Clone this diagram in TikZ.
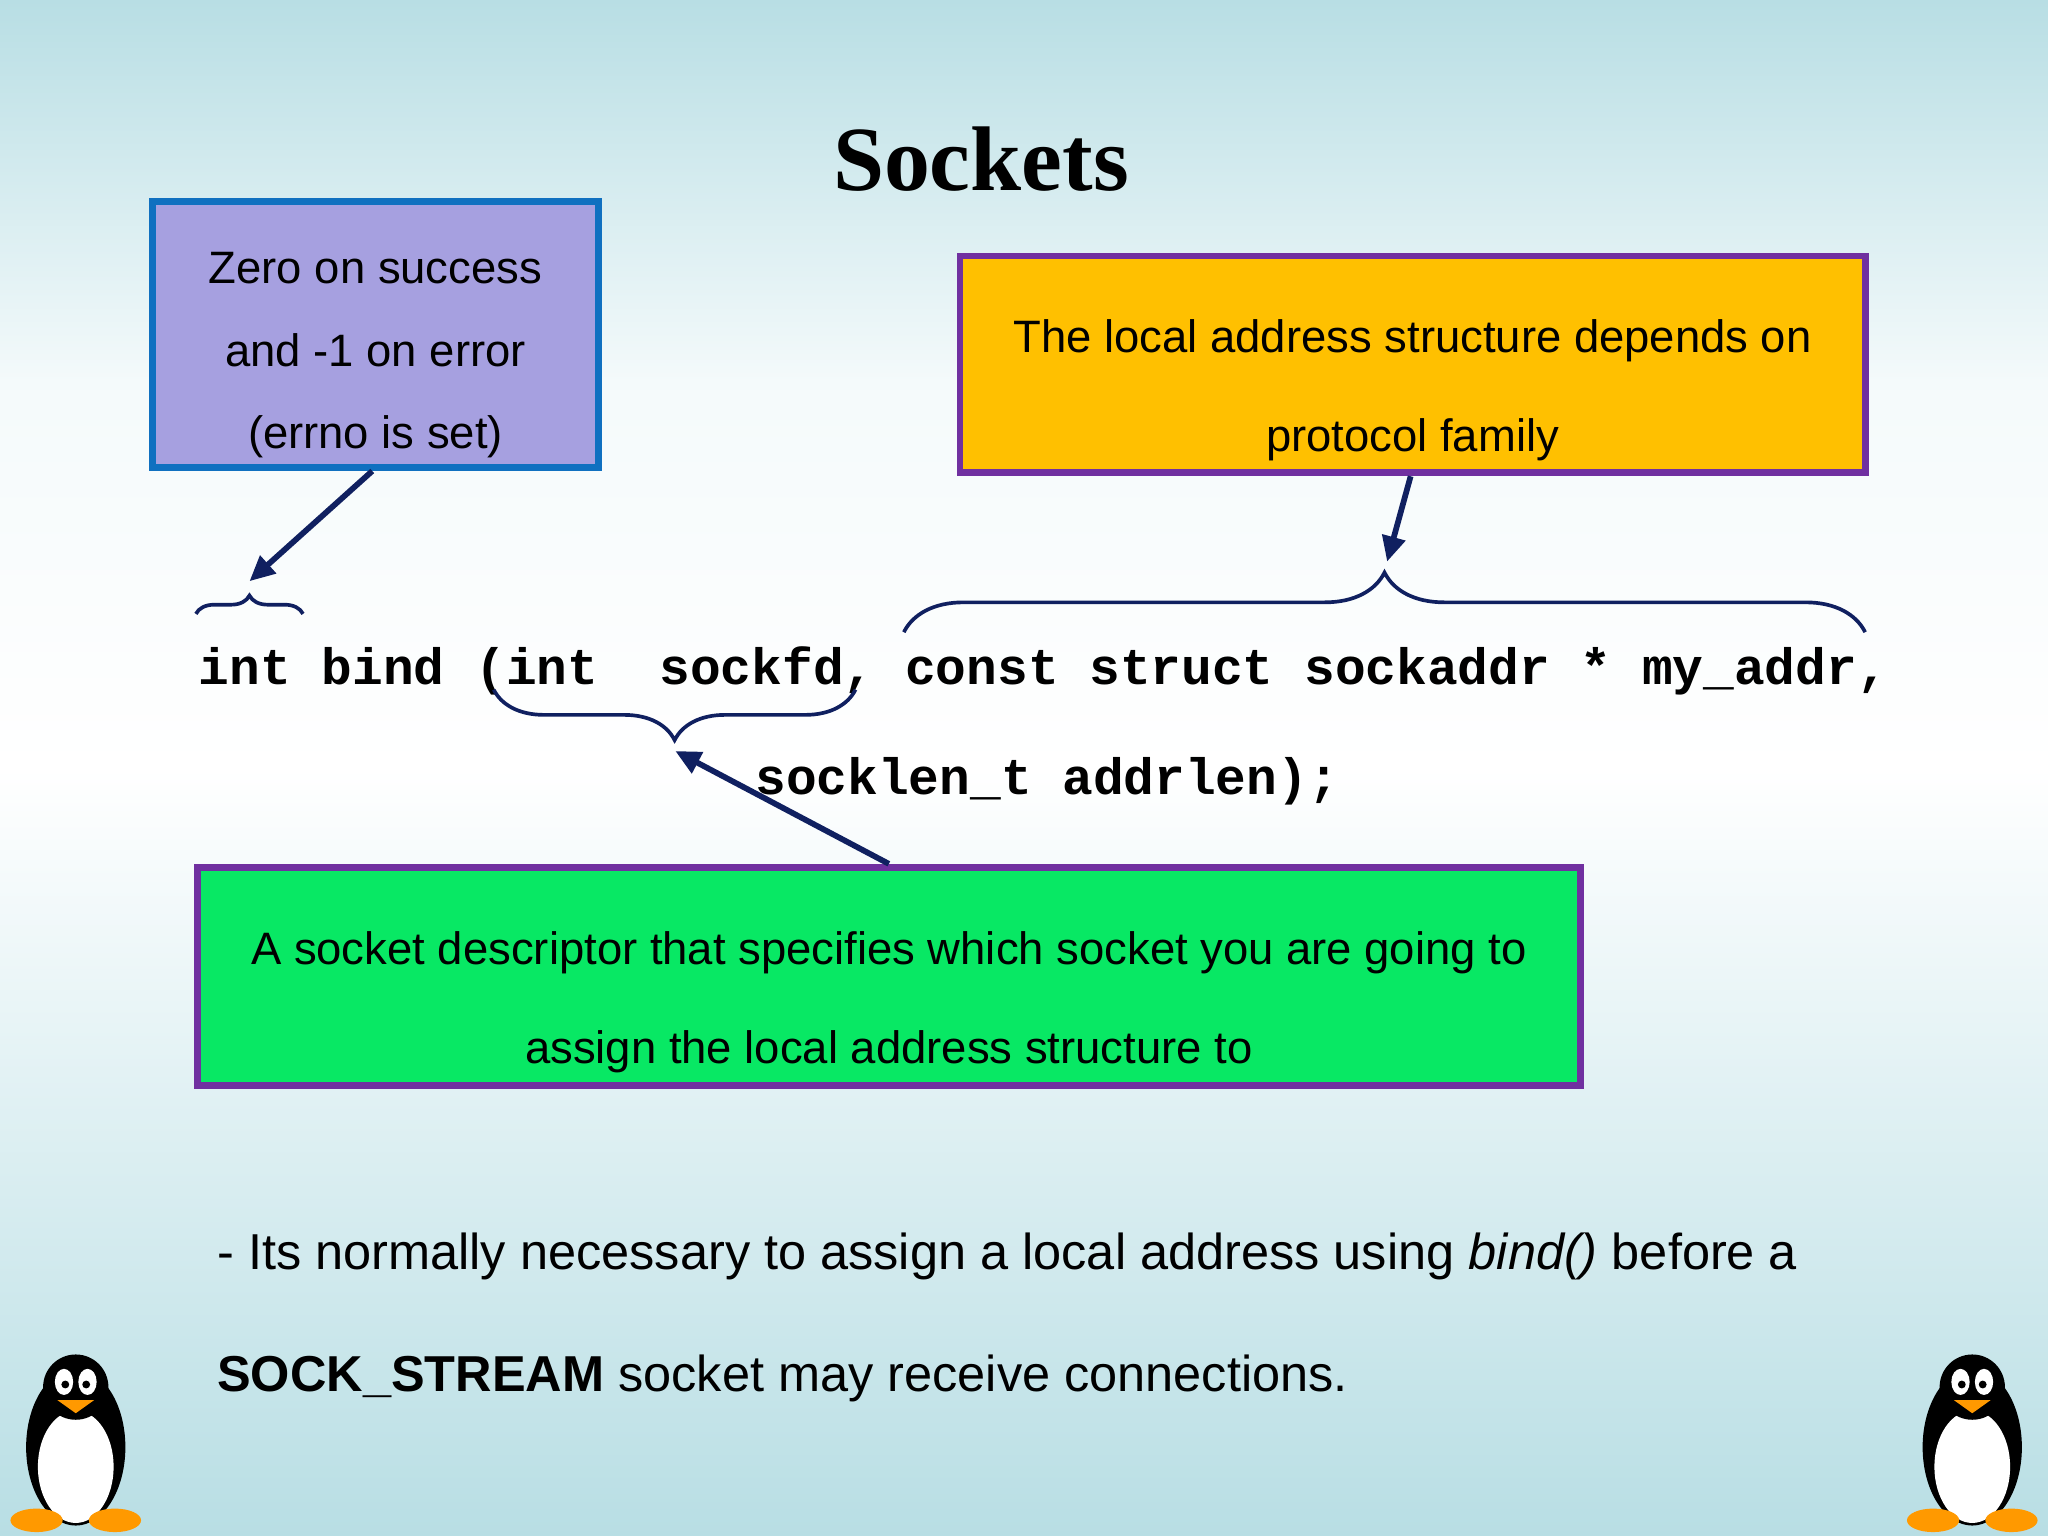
\documentclass[tikz,border=0pt]{standalone}
\usepackage{fontspec}
\setmainfont{Liberation Sans}
\newfontfamily\codefont{Liberation Mono}
\newfontfamily\titlefont{Liberation Serif}
\usetikzlibrary{positioning,decorations.pathreplacing,arrows.meta}
\definecolor{arrowcolor}{RGB}{16,32,96}
\definecolor{boxblue}{RGB}{166,160,224}
\definecolor{edgeblue}{RGB}{16,112,192}
\definecolor{boxorange}{RGB}{255,192,0}
\definecolor{edgepurple}{RGB}{112,48,160}
\definecolor{boxgreen}{RGB}{8,232,100}
\definecolor{bgblue}{RGB}{184,222,228}
\tikzset{
  note/.style={draw, line width=3pt, inner sep=0pt},
  notetext/.style={align=center, font=\fontsize{19.8}{36}\selectfont, inner sep=0pt},
  code/.style={font=\codefont\bfseries\fontsize{22.3}{26}\selectfont, anchor=west, inner sep=0pt},
  callout/.style={-{Triangle[length=11pt,width=10pt]}, line width=2.5pt, arrowcolor},
  bracket/.style={decorate, decoration={brace, amplitude=13pt}, line width=1.6pt, arrowcolor},
  penguin/.pic={
    \fill[black] (0,0) ellipse (38 and 60);
    \fill[white] (0,-15) ellipse (29 and 43);
    \fill[black] (0,46) circle (25);
    \fill[white] (-9,50) ellipse (7 and 10);
    \fill[white] (9,50) ellipse (7 and 10);
    \fill[black] (-8,48) circle (3);
    \fill[black] (8,48) circle (3);
    \fill[orange!80!yellow] (-14,36) -- (14,36) -- (0,26) -- cycle;
    \fill[orange!80!yellow] (-30,-56) ellipse (20 and 9);
    \fill[orange!80!yellow] (30,-56) ellipse (20 and 9);
  }
}
\begin{document}
\begin{tikzpicture}[x=0.02cm, y=-0.02cm]
    % Background
    \shade[top color=bgblue, bottom color=white, middle color=white!85!bgblue] (0,0) rectangle (1568,588);
    \shade[top color=white, bottom color=bgblue] (0,588) rectangle (1568,1176);
    \useasboundingbox (0,0) rectangle (1568,1176);

    % Title
    \node[font=\titlefont\bfseries\fontsize{40}{46}\selectfont] (title) at (751,122) {Sockets};

    % Notes
    \node[note, fill=boxblue, draw=edgeblue, minimum width=341*0.02cm, minimum height=204*0.02cm] (ret) at (287.5,256) {};
    \node[notetext] (retText) at ([yshift=-16*0.02cm]ret.center) {Zero on success\\and -1 on error\\(errno is set)};
    \node[note, fill=boxorange, draw=edgepurple, minimum width=693*0.02cm, minimum height=166*0.02cm] (addr) at (1081.5,279) {};
    \node[notetext, font=\fontsize{19.8}{43}\selectfont] (addrText) at ([yshift=-20*0.02cm]addr.center) {The local address structure depends on\\protocol family};
    \node[note, fill=boxgreen, draw=edgepurple, minimum width=1059*0.02cm, minimum height=167*0.02cm] (desc) at (680.5,747.5) {};
    \node[notetext, font=\fontsize{19.8}{43}\selectfont] (descText) at ([yshift=-20*0.02cm]desc.center) {A socket descriptor that specifies which socket you are going to\\assign the local address structure to};

    % Code
    \node[code] (line1) at (152,514) {int bind (int\ \ sockfd, const struct sockaddr * my\_addr,};
    \node[code] (line2) at (578,598) {socklen\_t addrlen);};

    % Braces
    \draw[bracket, decoration={amplitude=8pt}] (150,470) -- (232,470);
    \draw[bracket, decoration={amplitude=26pt}] (692,484) -- (1428,484);
    \draw[bracket, decoration={amplitude=22pt}] (655,528) -- (378,528);

    % Callouts
    \coordinate (retTip) at (191,445);
    \coordinate (addrTip) at (1062,430);
    \coordinate (descTip) at (517,575);
    \draw[callout] (ret.south -| 285,0) -- (retTip);
    \draw[callout] (addr.south -| 1080,0) -- (addrTip);
    \draw[callout] (desc.north) -- (descTip);

    % Bottom text
    \node[anchor=west, font=\fontsize{22}{26}\selectfont, inner sep=0pt] (note1) at (166,962) {- Its normally necessary to assign a local address using \textit{bind()} before a};
    \node[anchor=west, font=\fontsize{22}{26}\selectfont, inner sep=0pt] (note2) at (166,1055) {\textbf{SOCK\_STREAM} socket may receive connections.};

    % Penguins
    \pic[yscale=-1] at (58,1108) {penguin};
    \pic[yscale=-1] at (1510,1108) {penguin};
\end{tikzpicture}
\end{document}
